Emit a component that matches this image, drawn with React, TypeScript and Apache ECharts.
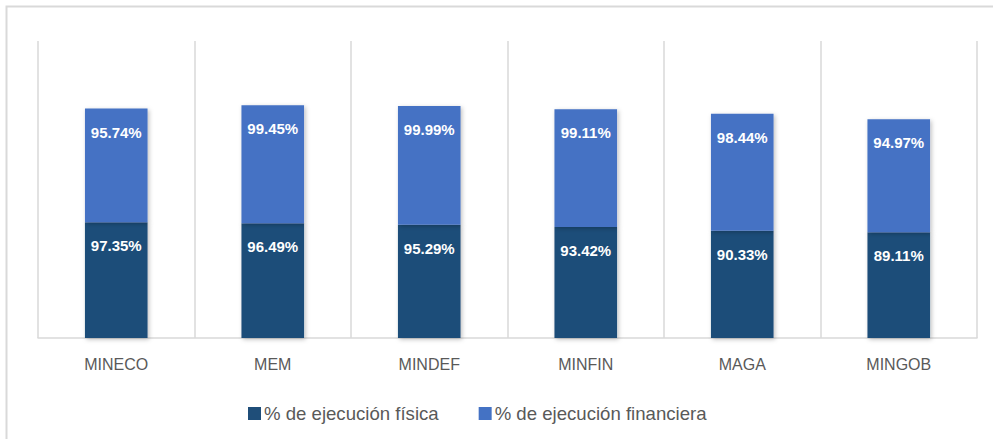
import React, { useEffect, useRef } from "react";
import * as echarts from "echarts";

const categories = ["MINECO", "MEM", "MINDEF", "MINFIN", "MAGA", "MINGOB"];
const fisica = [97.35, 96.49, 95.29, 93.42, 90.33, 89.11];
const financiera = [95.74, 99.45, 99.99, 99.11, 98.44, 94.97];
const seriesNames = ["% de ejecución física", "% de ejecución financiera"];

export default function App() {
  const ref = useRef<HTMLDivElement>(null);
  useEffect(() => {
    document.body.style.margin = "0";
    const chart = echarts.init(ref.current!, null, { renderer: "svg" });
    const label = {
      show: true,
      position: "insideTop",
      distance: 16,
      color: "#ffffff",
      fontWeight: "bold",
      fontSize: 15,
      fontFamily: "Liberation Sans",
      formatter: (p: any) => p.value.toFixed(2) + "%",
    };
    const shadow = {
      shadowBlur: 4,
      shadowColor: "rgba(0,0,0,0.25)",
      shadowOffsetX: 1.5,
      shadowOffsetY: 1.5,
    };
    chart.setOption({
      animation: false,
      backgroundColor: "#ffffff",
      graphic: [
        {
          type: "rect",
          shape: { x: 6.5, y: 6.5, width: 1100, height: 600 },
          style: { fill: "none", stroke: "#d9d9d9", lineWidth: 2 },
          silent: true,
        },
      ],
      grid: { left: 38, right: 16, top: 41, bottom: 101 },
      legend: {
        left: 243,
        top: 399,
        itemWidth: 13,
        itemHeight: 13,
        itemGap: 40,
        icon: "rect",
        textStyle: {
          color: "#595959",
          fontSize: 18.6,
          fontFamily: "Liberation Sans",
          padding: [0, 0, 0, -2],
        },
        data: seriesNames,
      },
      xAxis: {
        type: "category",
        data: categories,
        axisLine: { lineStyle: { color: "#d9d9d9", width: 1.5 } },
        axisTick: { show: false },
        axisLabel: {
          color: "#595959",
          fontSize: 16,
          fontFamily: "Liberation Sans",
          margin: 18,
        },
        splitLine: {
          show: true,
          interval: 0,
          lineStyle: { color: "#d9d9d9", width: 1.5 },
        },
      },
      yAxis: {
        type: "value",
        min: 0,
        max: 250,
        show: false,
        splitLine: { show: false },
      },
      series: [
        {
          name: seriesNames[0],
          type: "bar",
          stack: "total",
          barWidth: "40%",
          data: fisica,
          itemStyle: { color: "#1f4e79", ...shadow },
          label,
        },
        {
          name: seriesNames[1],
          type: "bar",
          stack: "total",
          barWidth: "40%",
          data: financiera,
          itemStyle: { color: "#4472c4", ...shadow },
          label,
        },
      ],
    });
    return () => chart.dispose();
  }, []);
  return <div ref={ref} style={{ width: 993, height: 439 }} />;
}
